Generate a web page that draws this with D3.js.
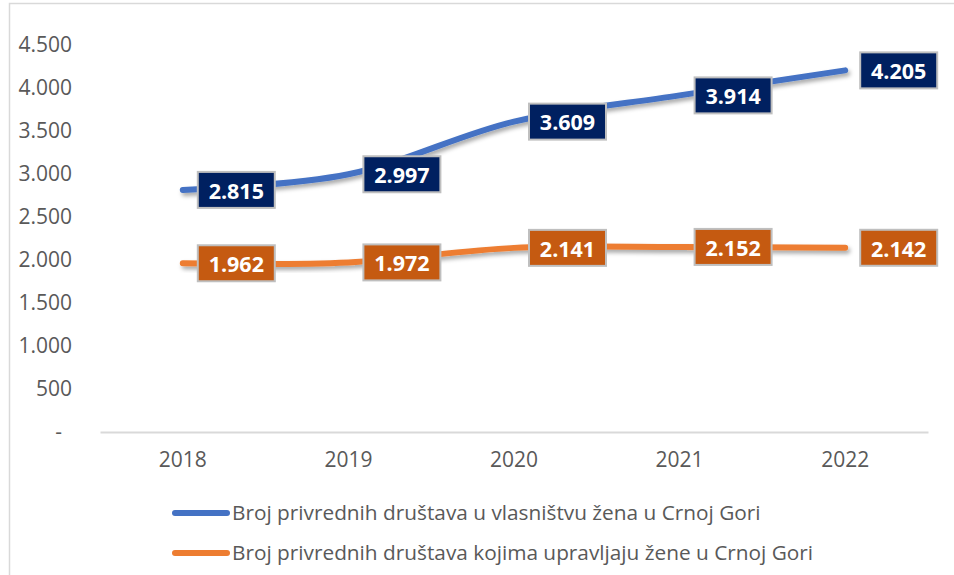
<!DOCTYPE html>
<html>
<head>
<meta charset="utf-8">
<script src="https://cdn.jsdelivr.net/npm/d3@7"></script>
<style>
  body { margin: 0; background: #fff; }
  text { font-family: "Open Sans", sans-serif; }
</style>
</head>
<body>
<div id="chart"></div>
<script>
// data
var years = ["2018", "2019", "2020", "2021", "2022"];
var ownedByWomen = [2815, 2997, 3609, 3914, 4205];
var managedByWomen = [1962, 1972, 2141, 2152, 2142];
var seriesNames = [
  "Broj privrednih društava u vlasništvu žena u Crnoj Gori",
  "Broj privrednih društava kojima upravljaju žene u Crnoj Gori"
];
var yTicks = [0, 500, 1000, 1500, 2000, 2500, 3000, 3500, 4000, 4500];

var w = 954, h = 575;
var lineColors = ["#4472c4", "#ed7d31"];
var boxColors = ["#002060", "#c55a11"];

var svg = d3.select("#chart").append("svg")
  .attr("width", w)
  .attr("height", h);

// shadow for the lines
var defs = svg.append("defs");
defs.append("filter")
  .attr("id", "shadow")
  .attr("x", "-10%").attr("y", "-50%")
  .attr("width", "120%").attr("height", "200%")
  .append("feDropShadow")
  .attr("dx", 2).attr("dy", 3)
  .attr("stdDeviation", 2)
  .attr("flood-color", "#000")
  .attr("flood-opacity", 0.35);

// outer border
svg.append("rect")
  .attr("x", 9.5).attr("y", 3.5)
  .attr("width", w + 20).attr("height", h + 20)
  .attr("fill", "none")
  .attr("stroke", "#d9d9d9")
  .attr("stroke-width", 1.5);

var x = d3.scaleBand()
  .domain(years)
  .range([100, 928]);

var y = d3.scaleLinear()
  .domain([0, 4500])
  .range([432, 45]);

var fmt = function (v) {
  return v === 0 ? "-" : d3.format(",")(v).replace(/,/g, ".");
};

// y axis labels
var yAxis = svg.append("g")
  .attr("transform", "translate(72,0)")
  .call(d3.axisLeft(y).tickValues(yTicks).tickFormat(fmt).tickSize(0).tickPadding(0));
yAxis.select(".domain").remove();
yAxis.selectAll("text")
  .attr("font-family", "Open Sans")
  .attr("font-size", 21)
  .attr("fill", "#595959")
  .attr("dx", function (d) { return d === 0 ? -10 : 0; });

// x axis
var xAxis = svg.append("g")
  .attr("transform", "translate(0,432)")
  .call(d3.axisBottom(x).tickSize(0).tickPadding(20));
xAxis.select(".domain")
  .attr("stroke", "#d9d9d9")
  .attr("stroke-width", 2);
xAxis.selectAll("text")
  .attr("font-family", "Open Sans")
  .attr("font-size", 21)
  .attr("fill", "#595959");

var cx = function (d, i) { return x(years[i]) + x.bandwidth() / 2; };

var line = d3.line()
  .x(cx)
  .y(function (d) { return y(d); })
  .curve(d3.curveCatmullRom.alpha(0.5));

var allSeries = [ownedByWomen, managedByWomen];

allSeries.forEach(function (vals, s) {
  svg.append("path")
    .datum(vals)
    .attr("d", line)
    .attr("fill", "none")
    .attr("stroke", lineColors[s])
    .attr("stroke-width", 6)
    .attr("stroke-linecap", "round")
    .attr("filter", "url(#shadow)");
});

// data labels (right of the point)
allSeries.forEach(function (vals, s) {
  var g = svg.append("g");
  var lab = g.selectAll("g")
    .data(vals)
    .enter()
    .append("g")
    .attr("transform", function (d, i) {
      return "translate(" + (cx(d, i) + 15) + "," + y(d) + ")";
    });
  lab.append("rect")
    .attr("x", 0).attr("y", -18)
    .attr("width", 77).attr("height", 36)
    .attr("fill", boxColors[s])
    .attr("stroke", "#bfbfbf")
    .attr("stroke-width", 2);
  lab.append("text")
    .attr("x", 38.5)
    .attr("y", 1)
    .attr("dy", "0.36em")
    .attr("text-anchor", "middle")
    .attr("font-size", 21.5)
    .attr("font-weight", "bold")
    .attr("fill", "#fff")
    .text(function (d) { return fmt(d); });
});

// legend
var legend = svg.append("g");
seriesNames.forEach(function (name, s) {
  var ly = 513 + s * 40;
  legend.append("line")
    .attr("x1", 175).attr("x2", 227)
    .attr("y1", ly).attr("y2", ly)
    .attr("stroke", lineColors[s])
    .attr("stroke-width", 6)
    .attr("stroke-linecap", "round");
  legend.append("text")
    .attr("x", 232)
    .attr("y", ly)
    .attr("dy", "0.35em")
    .attr("font-size", 20.8)
    .attr("fill", "#595959")
    .text(name);
});
</script>
</body>
</html>
